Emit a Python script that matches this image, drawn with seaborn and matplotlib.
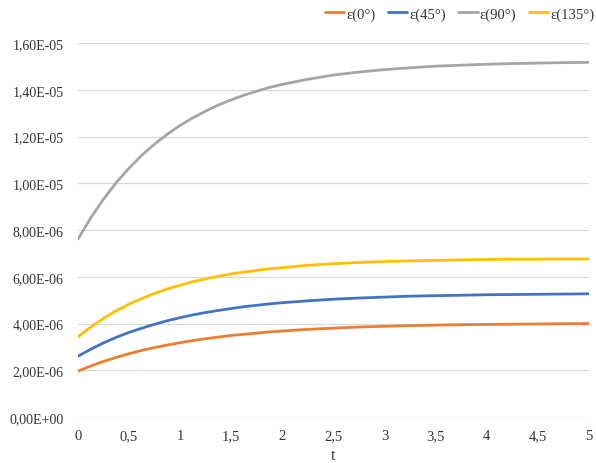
import matplotlib
matplotlib.use("Agg")
import matplotlib.pyplot as plt
import seaborn as sns
import pandas as pd

# ---- data ----
t = [0, 0.125, 0.25, 0.375, 0.5, 0.625, 0.75, 0.875, 1, 1.125, 1.25, 1.375,
     1.5, 1.625, 1.75, 1.875, 2, 2.25, 2.5, 2.75, 3, 3.25, 3.5, 3.75, 4,
     4.25, 4.5, 4.75, 5]
eps0 = [1.96, 2.18, 2.38, 2.55, 2.71, 2.85, 2.97, 3.08, 3.18, 3.27, 3.35, 3.42,
        3.49, 3.54, 3.59, 3.64, 3.68, 3.75, 3.80, 3.85, 3.88, 3.91, 3.93, 3.95,
        3.96, 3.97, 3.98, 3.99, 4.00]
eps45 = [2.60, 2.90, 3.17, 3.41, 3.62, 3.80, 3.97, 4.12, 4.25, 4.37, 4.47, 4.56,
         4.64, 4.72, 4.78, 4.84, 4.89, 4.97, 5.04, 5.09, 5.13, 5.17, 5.19, 5.21,
         5.23, 5.24, 5.25, 5.26, 5.27]
eps90 = [7.61, 8.52, 9.32, 10.03, 10.65, 11.20, 11.68, 12.10, 12.48, 12.80, 13.09,
         13.35, 13.57, 13.77, 13.94, 14.10, 14.23, 14.45, 14.63, 14.76, 14.86,
         14.94, 15.01, 15.05, 15.09, 15.12, 15.14, 15.16, 15.17]
eps135 = [3.43, 3.85, 4.22, 4.55, 4.83, 5.07, 5.29, 5.48, 5.64, 5.79, 5.91, 6.02,
          6.12, 6.20, 6.27, 6.34, 6.39, 6.49, 6.56, 6.61, 6.65, 6.68, 6.70, 6.72,
          6.74, 6.75, 6.75, 6.76, 6.76]
scale = 1e-6
series_names = ["ε(0°)", "ε(45°)", "ε(90°)", "ε(135°)"]
colors = ["#ED7D31", "#4472C4", "#A5A5A5", "#FFC000"]

x_ticks = [0, 0.5, 1, 1.5, 2, 2.5, 3, 3.5, 4, 4.5, 5]
x_tick_labels = ["0", "0,5", "1", "1,5", "2", "2,5", "3", "3,5", "4", "4,5", "5"]
y_ticks = [0, 2e-6, 4e-6, 6e-6, 8e-6, 1e-5, 1.2e-5, 1.4e-5, 1.6e-5]
y_tick_labels = ["0,00E+00", "2,00E-06", "4,00E-06", "6,00E-06", "8,00E-06",
                 "1,00E-05", "1,20E-05", "1,40E-05", "1,60E-05"]
x_label = "t"

# ---- long-form table ----
rows = []
for name, vals in zip(series_names, [eps0, eps45, eps90, eps135]):
    for ti, v in zip(t, vals):
        rows.append({"t": ti, "value": v * scale, "series": name})
df = pd.DataFrame(rows)

sns.set_theme(style="white")
plt.rcParams["font.family"] = ["Liberation Serif", "DejaVu Serif"]

fig = plt.figure(figsize=(5.96, 4.64), dpi=100)
fig.patch.set_facecolor("white")
ax = fig.add_axes([78 / 596, 1 - 418 / 464, (589 - 78) / 596, (418 - 44) / 464])

sns.lineplot(data=df, x="t", y="value", hue="series", hue_order=series_names,
             palette=colors, linewidth=2.0, ax=ax, legend=True)

ax.set_xlim(0, 5)
ax.set_ylim(0, 1.6e-5)
ax.set_xticks(x_ticks)
ax.set_xticklabels(x_tick_labels, fontsize=10.5, color="#333333")
ax.set_yticks(y_ticks)
ax.set_yticklabels(y_tick_labels, fontsize=10, color="#333333")
ax.tick_params(axis="both", length=0)
ax.tick_params(axis="y", pad=10.5)
ax.tick_params(axis="x", pad=8.5)
ax.set_xlabel(x_label, fontsize=11.5, color="#333333", labelpad=3.5)
ax.set_ylabel("")

for s in ax.spines.values():
    s.set_visible(False)
ax.yaxis.grid(True, color="#D9D9D9", linewidth=0.9)
ax.xaxis.grid(False)
ax.set_axisbelow(True)
ax.set_facecolor("white")

handles, labels = ax.get_legend_handles_labels()
ax.get_legend().remove()
fig.legend(handles, labels, loc="center right", bbox_to_anchor=(0.997, 1 - 15 / 464),
           ncol=4, frameon=False, fontsize=10.5, handlelength=1.35, handletextpad=0.12,
           columnspacing=0.85, borderpad=0, borderaxespad=0, labelcolor="#333333")

fig.savefig("out.png", dpi=100, facecolor="white")
